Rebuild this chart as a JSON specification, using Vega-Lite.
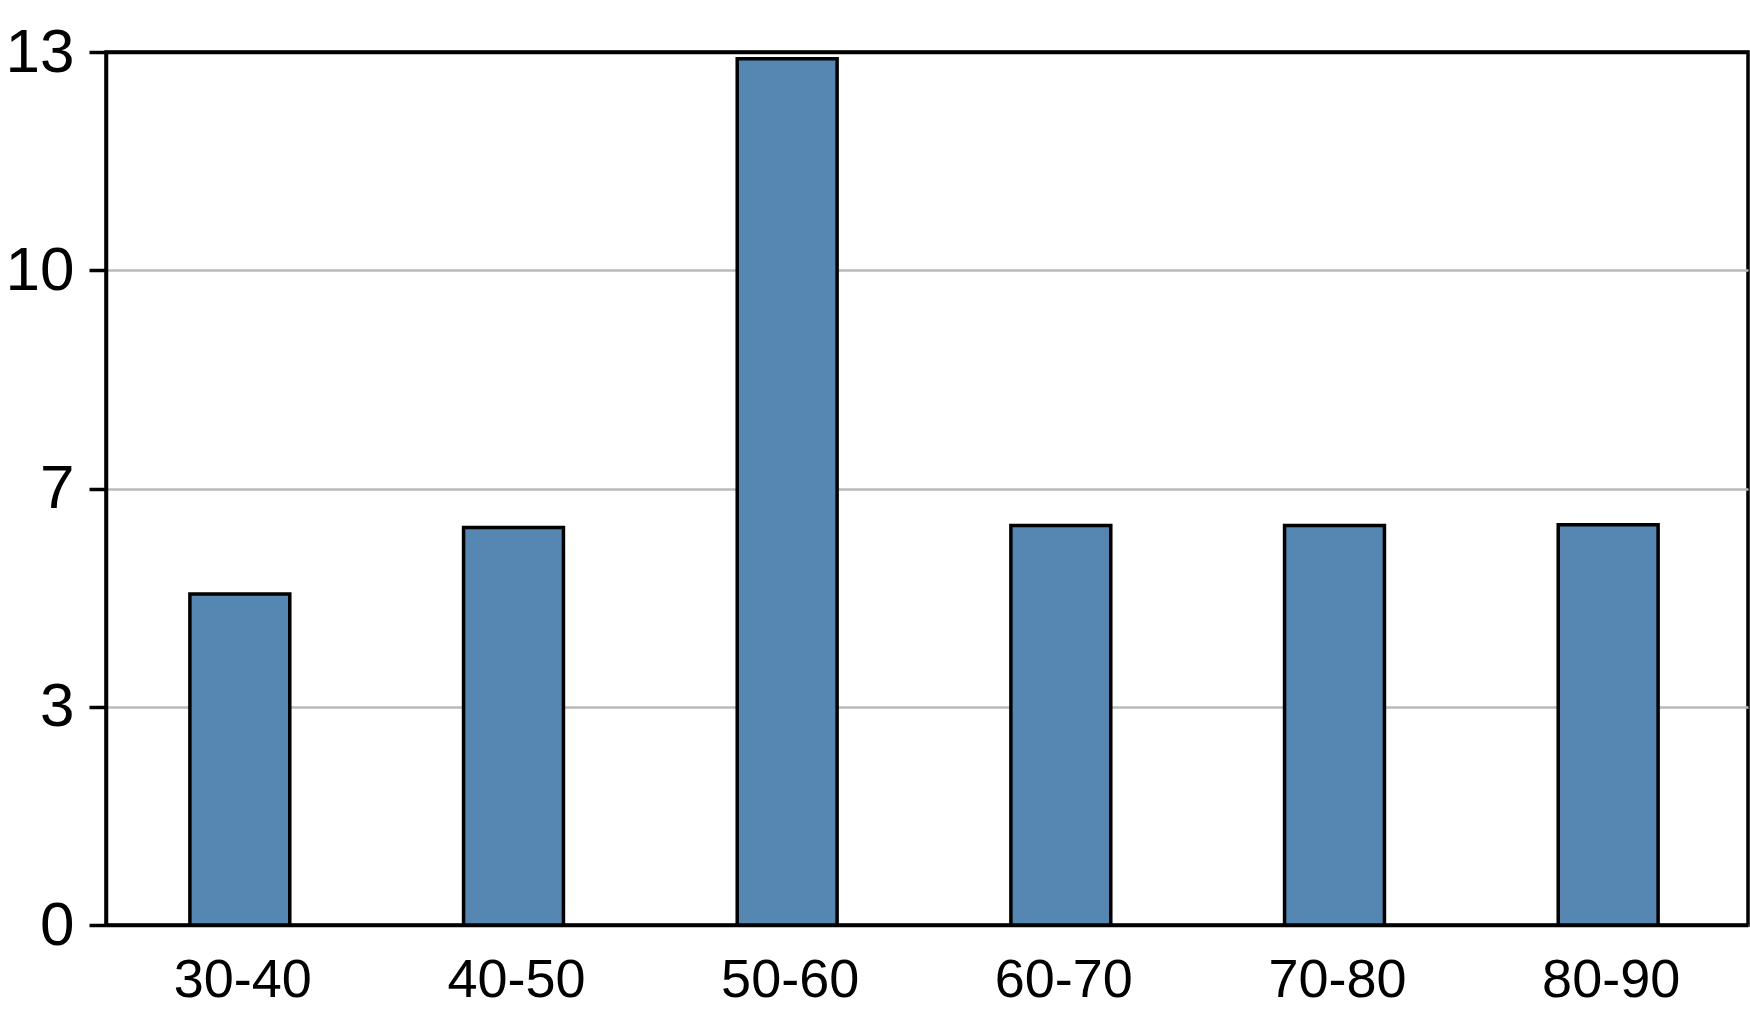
{
  "$schema": "https://vega.github.io/schema/vega-lite/v6.json",
  "autosize": "none",
  "width": 1642,
  "height": 873,
  "padding": {"left": 106, "top": 52, "right": 2, "bottom": 99},
  "background": "white",
  "config": {
    "view": {"stroke": "black", "strokeWidth": 3.5},
    "axis": {"labelColor": "black", "domainColor": "black", "tickColor": "black", "domainWidth": 3.5, "tickWidth": 3.5, "title": null}
  },
  "data": {
    "values": [
      {"range": "30-40", "value": 4.93},
      {"range": "40-50", "value": 5.92},
      {"range": "50-60", "value": 12.9},
      {"range": "60-70", "value": 5.95},
      {"range": "70-80", "value": 5.95},
      {"range": "80-90", "value": 5.96}
    ]
  },
  "mark": {"type": "bar", "fill": "#5587b2", "stroke": "black", "strokeWidth": 3.5, "xOffset": -3},
  "encoding": {
    "x": {
      "field": "range",
      "type": "ordinal",
      "sort": null,
      "scale": {"paddingInner": 0.635, "paddingOuter": 0.3175},
      "axis": {"labelAngle": 0, "ticks": false, "labelPadding": 71, "labelBaseline": "alphabetic", "labelFont": "Liberation Sans", "labelFontSize": 54, "grid": false}
    },
    "y": {
      "field": "value",
      "type": "quantitative",
      "scale": {"domain": [0, 13], "nice": false},
      "axis": {
        "values": [0, 3.25, 6.5, 9.75, 13],
        "format": "d",
        "labelFont": "Liberation Sans",
        "labelFontSize": 62,
        "tickSize": 17,
        "labelPadding": 15,
        "grid": true,
        "gridColor": {"condition": {"test": "datum.value >= 13", "value": "black"}, "value": "#bababa"},
        "gridWidth": {"condition": {"test": "datum.value >= 13", "value": 3.5}, "value": 2.5}
      }
    }
  }
}
